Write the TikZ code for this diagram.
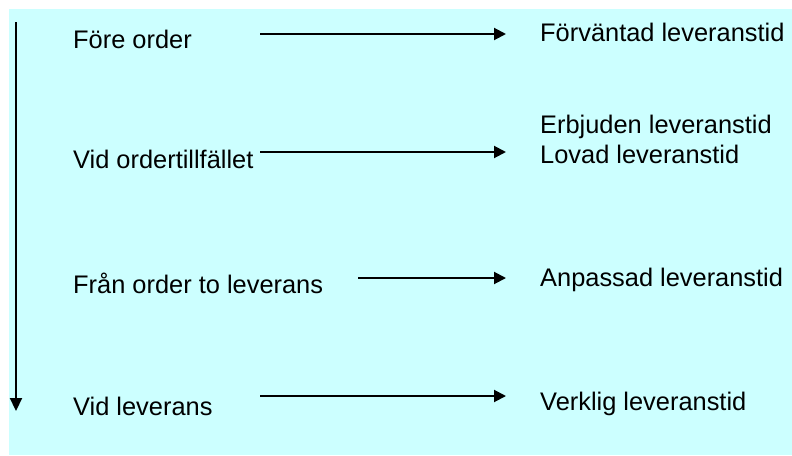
\documentclass[tikz,border=0pt]{standalone}
\usepackage{fontspec}
\setmainfont{Liberation Sans}
\usetikzlibrary{arrows.meta}
\definecolor{bgcyan}{RGB}{204,255,255}
\begin{document}
\begin{tikzpicture}[x=1pt,y=-1pt,
  lbl/.style={anchor=base west,inner sep=0pt,font=\fontsize{25.4}{30}\selectfont},
  harrow/.style={line width=2pt,-{Triangle[length=12pt,width=12pt]}},
  varrow/.style={line width=2.2pt,-{Triangle[length=13pt,width=12pt]}}]
\useasboundingbox (0,0) rectangle (792,455);
\fill[bgcyan] (9,9) rectangle (792,455);
% left labels
\node[lbl] (l1) at (73,48.3) {Före order};
\node[lbl] (l2) at (73,168.3) {Vid ordertillfället};
\node[lbl] (l3) at (73,293.3) {Från order to leverans};
\node[lbl] (l4) at (73,415) {Vid leverans};
% right labels
\node[lbl] (r1) at (540,41.7) {Förväntad leveranstid};
\node[lbl] (r2a) at (540,133.3) {Erbjuden leveranstid};
\node[lbl] (r2b) at (540,163.3) {Lovad leveranstid};
\node[lbl] (r3) at (540,286) {Anpassad leveranstid};
\node[lbl] (r4) at (540,410) {Verklig leveranstid};
% arrow endpoints
\coordinate (a1s) at (260,34);  \coordinate (a1e) at (506,34);
\coordinate (a2s) at (260,152); \coordinate (a2e) at (506,152);
\coordinate (a3s) at (358,278); \coordinate (a3e) at (506,278);
\coordinate (a4s) at (260,396); \coordinate (a4e) at (506,396);
\coordinate (vs) at (16,22); \coordinate (ve) at (16,411);
\draw[harrow] (a1s) -- (a1e);
\draw[harrow] (a2s) -- (a2e);
\draw[harrow] (a3s) -- (a3e);
\draw[harrow] (a4s) -- (a4e);
\draw[varrow] (vs) -- (ve);
\end{tikzpicture}
\end{document}
